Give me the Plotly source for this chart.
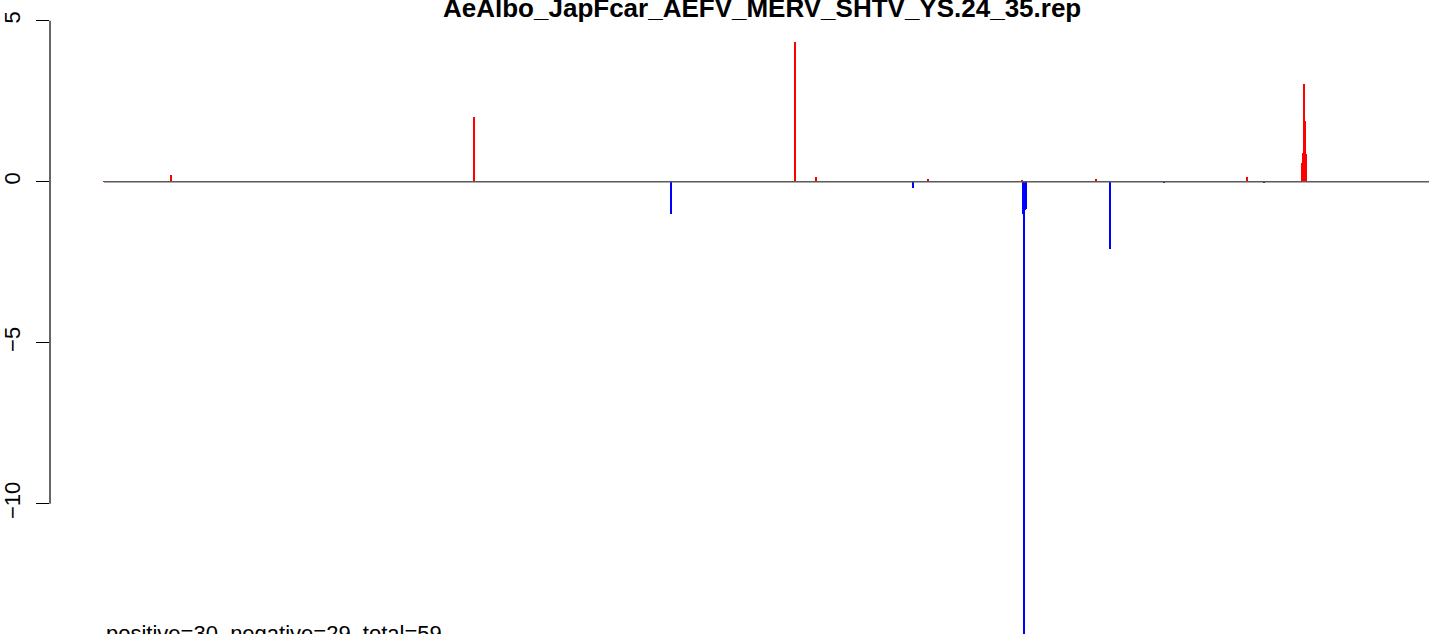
import plotly.graph_objects as go

# ---- data ----
title_text = "AeAlbo_JapFcar_AEFV_MERV_SHTV_YS.24_35.rep"
summary_text = "positive=30, negative=29, total=59"
n_positions = 1326
bar_index = [0, 67, 370, 567, 587, 691, 712, 809, 824, 918, 919, 920, 921, 922,
             992, 1006, 1060, 1143, 1160, 1198, 1199, 1200, 1201, 1202]
bar_value = [0.02, 0.2, 2.0, -0.99, 0.02, 4.33, 0.15, -0.19, 0.08, 0.03, -1.01, -14.5, -0.87, -0.86,
             0.08, -2.08, -0.03, 0.14, -0.03, 0.57, 0.89, 3.03, 1.89, 0.86]
y_ticks = [-10, -5, 0, 5]

colors = ["#FF0000" if v > 0 else "#0000FF" for v in bar_value]

fig = go.Figure()
# baseline across all positions
fig.add_trace(go.Scatter(x=[0, n_positions - 1], y=[0, 0], mode="lines",
                         line=dict(color="#5a5a5a", width=1.5), hoverinfo="skip", showlegend=False))
fig.add_trace(go.Bar(x=bar_index, y=bar_value, width=1.2, marker=dict(color=colors, line=dict(width=0)),
                     showlegend=False))

font_family = "Liberation Sans, Arial, Helvetica, sans-serif"

fig.update_layout(
    width=1429, height=634,
    margin=dict(l=50, r=0, t=0, b=0, autoexpand=False),
    plot_bgcolor="white", paper_bgcolor="white",
    bargap=0,
    xaxis=dict(range=[-54, n_positions - 1], visible=False, showgrid=False, zeroline=False),
    yaxis=dict(range=[-14.047, 5.643], showgrid=False, zeroline=False, showline=False,
               tickvals=y_ticks, ticktext=[str(t).replace("-", "\u2212") for t in y_ticks],
               ticks="outside", ticklen=13, tickwidth=1, tickcolor="black",
               tickangle=-90, ticklabelstandoff=7,
               tickfont=dict(family=font_family, size=22, color="black")),
    shapes=[dict(type="line", xref="paper", yref="y", x0=0, x1=0, y0=min(y_ticks), y1=max(y_ticks),
                 line=dict(color="black", width=1.2))],
    annotations=[
        dict(text="<b>" + title_text + "</b>", xref="paper", yref="paper",
             x=711.5 / 1379, y=1, yshift=9, xanchor="center", yanchor="top", showarrow=False,
             font=dict(family=font_family, size=26, color="black")),
        dict(text=summary_text, xref="paper", yref="paper", x=54 / 1379, y=0, yshift=-14,
             xanchor="left", yanchor="bottom", showarrow=False,
             font=dict(family=font_family, size=22, color="black")),
    ],
)

fig.write_html("out.html", config={"displayModeBar": False},
               post_script="document.body.style.margin='0';document.body.style.padding='0';"
                           "document.documentElement.style.overflow='hidden';")
